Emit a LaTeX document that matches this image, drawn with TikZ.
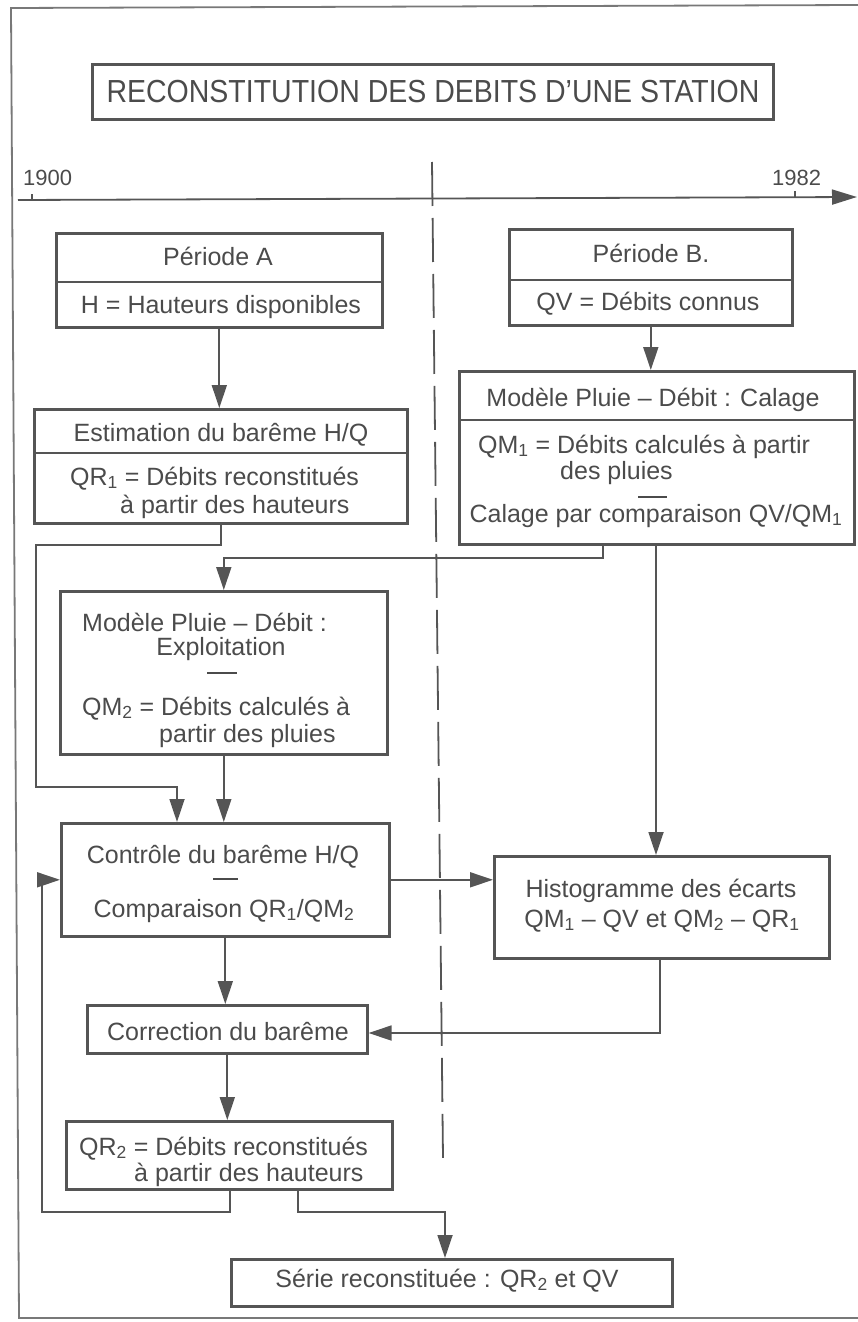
\documentclass[tikz,border=0pt]{standalone}
\usepackage{fontspec}
\setmainfont{Liberation Sans}
\usetikzlibrary{arrows.meta,calc}
\definecolor{linecol}{RGB}{85,85,85}
\definecolor{textcol}{RGB}{75,75,75}
\definecolor{framecol}{RGB}{120,120,120}
\tikzset{
 boxnode/.style={draw=linecol, line width=2.6pt, rectangle, inner sep=0pt, anchor=north west},
 divline/.style={draw=linecol, line width=2.2pt},
 conn/.style={draw=linecol, line width=1.8pt},
 arr/.style={conn, -{Triangle[length=23pt,width=15pt]}},
 txt/.style={text=textcol, inner sep=0pt, font=\fontsize{25}{28}\selectfont},
 ttl/.style={text=textcol, inner sep=0pt, font=\fontsize{28.5}{32}\selectfont},
 yr/.style={text=textcol, inner sep=0pt, font=\fontsize{22}{26}\selectfont, anchor=base west},
 sepline/.style={draw=textcol, line width=1.8pt},
}
\begin{document}
\begin{tikzpicture}[x=1pt,y=-1pt]
\useasboundingbox (0,0) rectangle (858,1322);
% frame
\draw[draw=framecol, line width=1.8pt] (858,5) -- (11,8) -- (19,1318) -- (858,1318);

% title
\node[boxnode, line width=3pt, minimum width=681pt, minimum height=55pt] (title) at (91,63) {};
\node[ttl] (titletxt) at (title.center) {\scalebox{1}[1.12]{RECONSTITUTION DES DEBITS D'UNE STATION}};

% time axis
\coordinate (ax0) at (18,200);
\coordinate (ax1) at (857,197);
\draw[conn, -{Triangle[length=25pt,width=15pt]}] (ax0) -- (ax1);
\draw[conn, line width=1.2pt] (32,194) -- (32,200);
\draw[conn, line width=1.2pt] (795,191) -- (795,197);
\node[yr] (y1900) at (23,185) {1900};
\node[yr] (y1982) at (772,185) {1982};

% dashed separation
\draw[conn, dash pattern=on 44pt off 12pt] (432,162) -- (443,1158);

% boxes
\node[boxnode, minimum width=326pt, minimum height=94pt] (A) at (55,232) {};
\node[boxnode, minimum width=283pt, minimum height=96pt] (B) at (508,228) {};
\node[boxnode, minimum width=373pt, minimum height=114pt] (E) at (33,408) {};
\node[boxnode, minimum width=395pt, minimum height=173pt] (C) at (458,370) {};
\node[boxnode, minimum width=327pt, minimum height=163pt] (X) at (59,590) {};
\node[boxnode, minimum width=328pt, minimum height=113pt] (K) at (60,822) {};
\node[boxnode, minimum width=335pt, minimum height=102pt] (H) at (493,855) {};
\node[boxnode, minimum width=280pt, minimum height=48pt] (R) at (86,1004) {};
\node[boxnode, minimum width=326pt, minimum height=68pt] (Q) at (65,1120) {};
\node[boxnode, minimum width=441pt, minimum height=47pt] (S) at (230,1258) {};

% dividers
\draw[divline] ([yshift=-50pt]A.north west) -- ([yshift=-50pt]A.north east);
\draw[divline] ([yshift=-52pt]B.north west) -- ([yshift=-52pt]B.north east);
\draw[divline] ([yshift=-45pt]E.north west) -- ([yshift=-45pt]E.north east);
\draw[divline] ([yshift=-50pt]C.north west) -- ([yshift=-50pt]C.north east);

% texts
\node[txt, anchor=base] (tA1) at (218,265) {Période A};
\node[txt, anchor=base] (tA2) at (221,313) {H = Hauteurs disponibles};
\node[txt, anchor=base] (tB1) at (651,262) {Période B.};
\node[txt, anchor=base] (tB2) at (648,310) {QV = Débits connus};
\node[txt, anchor=base] (tE1) at (221,441) {Estimation du barême H/Q};
\node[txt, anchor=base west] (tE2) at (70,485) {QR\textsubscript{1} = Débits reconstitués};
\node[txt, anchor=base west] (tE3) at (120,513) {à partir des hauteurs};
\node[txt, anchor=base] (tC1) at (653,406) {Modèle Pluie – Débit : Calage};
\node[txt, anchor=base west] (tC2) at (478,453) {QM\textsubscript{1} = Débits calculés à partir};
\node[txt, anchor=base west] (tC3) at (560,479) {des pluies};
\draw[sepline] (638,497) -- (667,497);
\node[txt, anchor=base] (tC4) at (656,522) {Calage par comparaison QV/QM\textsubscript{1}};
\node[txt, anchor=base west] (tX1) at (82,631) {Modèle Pluie – Débit :};
\node[txt, anchor=base] (tX2) at (221,655) {Exploitation};
\draw[sepline] (207,673) -- (237,673);
\node[txt, anchor=base west] (tX3) at (82,715) {QM\textsubscript{2} = Débits calculés à};
\node[txt, anchor=base west] (tX4) at (159,742) {partir des pluies};
\node[txt, anchor=base] (tK1) at (223,863) {Contrôle du barême H/Q};
\draw[sepline] (213,879) -- (238,879);
\node[txt, anchor=base] (tK2) at (224,917) {Comparaison QR\textsubscript{1}/QM\textsubscript{2}};
\node[txt, anchor=base] (tH1) at (661,897) {Histogramme des écarts};
\node[txt, anchor=base] (tH2) at (662,927) {QM\textsubscript{1} – QV et QM\textsubscript{2} – QR\textsubscript{1}};
\node[txt, anchor=base] (tR) at (228,1040) {Correction du barême};
\node[txt, anchor=base west] (tQ1) at (79,1155) {QR\textsubscript{2} = Débits reconstitués};
\node[txt, anchor=base west] (tQ2) at (134,1181) {à partir des hauteurs};
\node[txt, anchor=base] (tS) at (447,1287) {Série reconstituée : QR\textsubscript{2} et QV};

% connectors
\coordinate (e1) at (36,545);
\coordinate (e2) at (177,787);
\coordinate (c1) at (603,558);
\coordinate (h1) at (656,600);
\coordinate (r1) at (660,1033);
\coordinate (q0) at (230,1212);
\coordinate (q1) at (42,1212);
\coordinate (s0) at (298,1212);
\coordinate (s1) at (445,1212);

\draw[arr] (A.south) -- (A.south |- E.north);
\draw[arr] (B.south) -- (B.south |- C.north);
\draw[arr] (E.south) |- (e1) |- (e2) -- (e2 |- K.north);
\draw[arr] (c1 |- C.south) -- (c1) -| (X.north);
\draw[arr] (h1 |- C.south) -- (h1 |- H.north);
\draw[arr] (X.south) -- (X.south |- K.north);
\draw[arr] (K.east) -- (K.east -| H.west);
\draw[arr] (K.south) -- (K.south |- R.north);
\draw[arr] (r1 |- H.south) -- (r1) -- (r1 -| R.east);
\draw[arr] (R.south) -- (R.south |- Q.north);
\draw[arr] (q0 |- Q.south) -- (q0) -- (q1) |- (K.west);
\draw[arr] (s0 |- Q.south) -- (s0) -- (s1) -- (s1 |- S.north);
\end{tikzpicture}
\end{document}
